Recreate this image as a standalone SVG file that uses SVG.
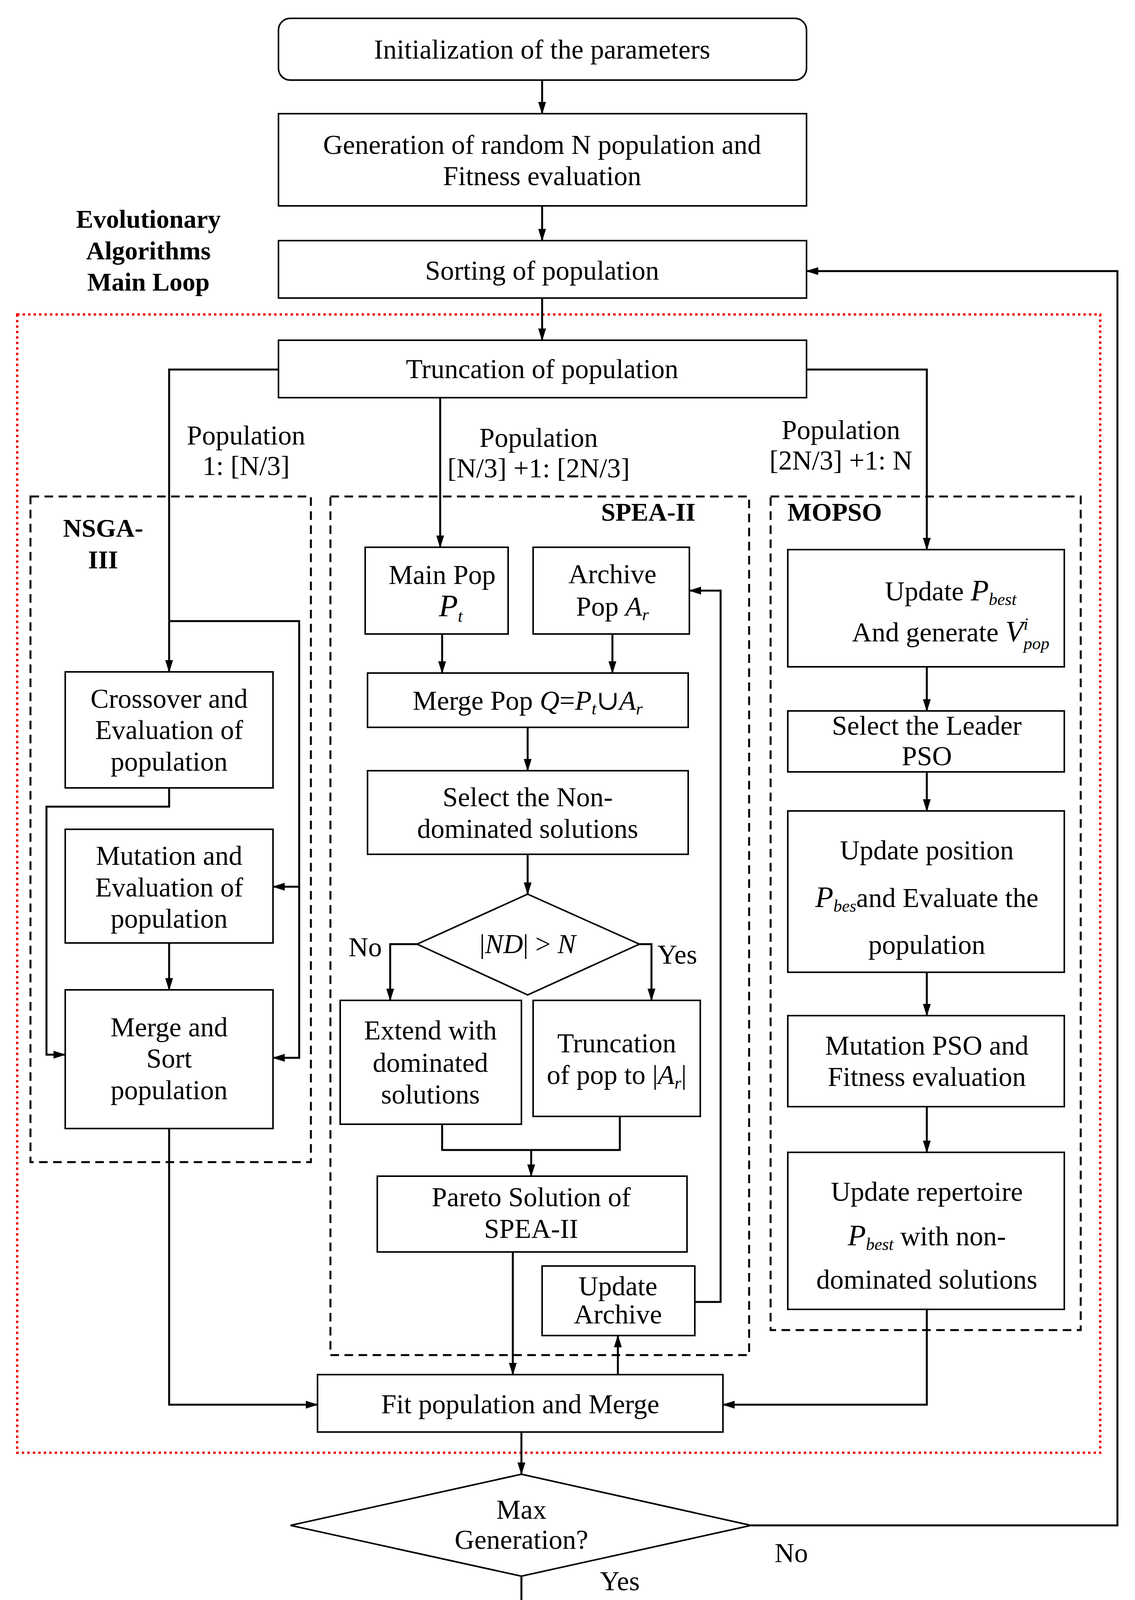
<svg xmlns="http://www.w3.org/2000/svg" width="2906" height="4350" viewBox="0 0 2906 4350">
<style>
text{font-family:"Liberation Serif","DejaVu Serif",serif;font-size:70px;fill:#000;text-anchor:middle}
.b{font-weight:bold;font-size:66px}
.i{font-style:italic}
.s{font-size:44px;font-style:italic}
.box{fill:#fff;stroke:#000;stroke-width:4}
.dash{fill:none;stroke:#000;stroke-width:5;stroke-dasharray:22 14}
.c{fill:none;stroke:#000;stroke-width:5}
</style>
<defs>
<marker id="a" markerWidth="32" markerHeight="32" refX="30" refY="16" orient="auto" markerUnits="userSpaceOnUse" viewBox="0 0 32 32"><path d="M0,6 L32,16 L0,26 z"/></marker>
</defs>
<rect width="2906" height="4350" fill="#fff"/>
<rect x="44" y="805" width="2773" height="2914" fill="none" stroke="#e00" stroke-width="6" stroke-dasharray="6 8"/>
<rect class="dash" x="78" y="1271" width="718" height="1704"/>
<rect class="dash" x="846" y="1271" width="1072" height="2198"/>
<rect class="dash" x="1973" y="1271" width="794" height="2134"/>
<g id="labels">
<text class="b" x="380" y="583">Evolutionary</text>
<text class="b" x="380" y="664">Algorithms</text>
<text class="b" x="380" y="744">Main Loop</text>
<text class="b" x="264" y="1374">NSGA-</text>
<text class="b" x="264" y="1455">III</text>
<text class="b" x="1660" y="1333">SPEA-II</text>
<text class="b" x="2137" y="1333">MOPSO</text>
<text x="630" y="1138">Population</text>
<text x="630" y="1216">1: [N/3]</text>
<text x="1379" y="1144">Population</text>
<text x="1379" y="1222">[N/3] +1: [2N/3]</text>
<text x="2153" y="1124">Population</text>
<text x="2153" y="1202">[2N/3] +1: N</text>
<text x="935" y="2448">No</text>
<text x="1734" y="2467">Yes</text>
<text x="2026" y="3999">No</text>
<text x="1587" y="4071">Yes</text>
</g>
<g id="connectors">
<path class="c" marker-end="url(#a)" d="M1388,205V291"/>
<path class="c" marker-end="url(#a)" d="M1388,527V616"/>
<path class="c" marker-end="url(#a)" d="M1388,763V871"/>
<path class="c" marker-end="url(#a)" d="M713,946H433V1720"/>
<path class="c" marker-end="url(#a)" d="M1127,1018V1401"/>
<path class="c" marker-end="url(#a)" d="M2065,946H2373V1407"/>
<path class="c" marker-end="url(#a)" d="M433,1590H766V2708H699"/>
<path class="c" marker-end="url(#a)" d="M766,2270H699"/>
<path class="c" marker-end="url(#a)" d="M433,2017V2065H119V2700H167"/>
<path class="c" marker-end="url(#a)" d="M433,2414V2534"/>
<path class="c" marker-end="url(#a)" d="M433,2889V3596H813"/>
<path class="c" marker-end="url(#a)" d="M1132,1623V1723"/>
<path class="c" marker-end="url(#a)" d="M1568,1623V1723"/>
<path class="c" marker-end="url(#a)" d="M1351,1862V1973"/>
<path class="c" marker-end="url(#a)" d="M1351,2187V2289"/>
<path class="c" marker-end="url(#a)" d="M1068,2417H999V2561"/>
<path class="c" marker-end="url(#a)" d="M1637,2417H1668V2561"/>
<path class="c" d="M1132,2878V2944H1587V2858"/>
<path class="c" marker-end="url(#a)" d="M1360,2944V3011"/>
<path class="c" marker-end="url(#a)" d="M1313,3205V3519"/>
<path class="c" marker-end="url(#a)" d="M1582,3519V3419"/>
<path class="c" marker-end="url(#a)" d="M1779,3333H1845V1512H1765"/>
<path class="c" marker-end="url(#a)" d="M2373,1707V1820"/>
<path class="c" marker-end="url(#a)" d="M2373,1976V2076"/>
<path class="c" marker-end="url(#a)" d="M2373,2489V2600"/>
<path class="c" marker-end="url(#a)" d="M2373,2833V2950"/>
<path class="c" marker-end="url(#a)" d="M2373,3352V3596H1851"/>
<path class="c" marker-end="url(#a)" d="M1335,3666V3774"/>
<path class="c" marker-end="url(#a)" d="M1923,3905H2861V694H2065"/>
<path class="c" marker-end="url(#a)" d="M1335,4035V4135"/>
</g>
<g id="n1"><rect class="box" x="713" y="47" width="1352" height="158" rx="30"/><text x="1388" y="150">Initialization of  the parameters</text></g>
<g id="n2"><rect class="box" x="713" y="291" width="1352" height="236"/><text x="1388" y="394">Generation of random N population and</text><text x="1388" y="474">Fitness evaluation</text></g>
<g id="n3"><rect class="box" x="713" y="616" width="1352" height="147"/><text x="1388" y="716">Sorting of population</text></g>
<g id="n4"><rect class="box" x="713" y="871" width="1352" height="147"/><text x="1388" y="968">Truncation of population</text></g>
<g id="nsga1"><rect class="box" x="167" y="1720" width="532" height="297"/><text x="433" y="1812">Crossover and</text><text x="433" y="1892">Evaluation of</text><text x="433" y="1973">population</text></g>
<g id="nsga2"><rect class="box" x="167" y="2123" width="532" height="291"/><text x="433" y="2214">Mutation and</text><text x="433" y="2295">Evaluation of</text><text x="433" y="2375">population</text></g>
<g id="nsga3"><rect class="box" x="167" y="2534" width="532" height="355"/><text x="433" y="2653">Merge and</text><text x="433" y="2733">Sort</text><text x="433" y="2814">population</text></g>
<g id="mainpop"><rect class="box" x="935" y="1401" width="366" height="222"/><text x="1132" y="1495">Main Pop</text><text class="i" x="1154" y="1578" style="font-size:80px">P<tspan class="s" dy="14">t</tspan></text></g>
<g id="archive"><rect class="box" x="1365" y="1401" width="400" height="222"/><text x="1568" y="1493">Archive</text><text x="1568" y="1576">Pop  <tspan class="i">A</tspan><tspan class="s" dy="12">r</tspan></text></g>
<g id="mergepop"><rect class="box" x="941" y="1723" width="821" height="139"/><text x="1351" y="1817">Merge Pop   <tspan class="i">Q</tspan>=<tspan class="i">P</tspan><tspan class="s" dy="12">t</tspan><tspan dy="-12">∪</tspan><tspan class="i">A</tspan><tspan class="s" dy="12">r</tspan></text></g>
<g id="selnd"><rect class="box" x="941" y="1973" width="821" height="214"/><text x="1351" y="2064">Select the Non-</text><text x="1351" y="2145">dominated solutions</text></g>
<g id="dec1"><polygon class="box" points="1351,2289 1637,2417 1351,2547 1068,2417"/><text x="1351" y="2440">|<tspan class="i">ND</tspan>| &gt; <tspan class="i">N</tspan></text></g>
<g id="extend"><rect class="box" x="871" y="2561" width="464" height="317"/><text x="1102" y="2661">Extend with</text><text x="1102" y="2744">dominated</text><text x="1102" y="2825">solutions</text></g>
<g id="trunc2"><rect class="box" x="1365" y="2561" width="428" height="297"/><text x="1579" y="2694">Truncation</text><text x="1579" y="2775">of pop to |<tspan class="i">A</tspan><tspan class="s" dy="12">r</tspan><tspan dy="-12">|</tspan></text></g>
<g id="pareto"><rect class="box" x="966" y="3011" width="793" height="194"/><text x="1360" y="3088">Pareto Solution of</text><text x="1360" y="3169">SPEA-II</text></g>
<g id="updarch"><rect class="box" x="1388" y="3241" width="391" height="178"/><text x="1582" y="3316">Update</text><text x="1582" y="3388">Archive</text></g>
<g id="m1"><rect class="box" x="2017" y="1407" width="708" height="300"/><text x="2434" y="1537">Update <tspan class="i" style="font-size:76px">P</tspan><tspan class="s" dy="12">best</tspan></text><text x="2434" y="1642">And generate <tspan class="i" style="font-size:76px">V</tspan><tspan class="s" dy="-30">i</tspan><tspan class="s" dx="-12" dy="50">pop</tspan></text></g>
<g id="m2"><rect class="box" x="2017" y="1820" width="708" height="156"/><text x="2373" y="1881">Select the Leader</text><text x="2373" y="1959">PSO</text></g>
<g id="m3"><rect class="box" x="2017" y="2076" width="708" height="413"/><text x="2373" y="2200">Update position</text><text x="2373" y="2322"><tspan class="i" style="font-size:76px">P</tspan><tspan class="s" dy="12">bes</tspan><tspan dy="-12">and Evaluate the</tspan></text><text x="2373" y="2442">population</text></g>
<g id="m4"><rect class="box" x="2017" y="2600" width="708" height="233"/><text x="2373" y="2700">Mutation PSO and</text><text x="2373" y="2780">Fitness evaluation</text></g>
<g id="m5"><rect class="box" x="2017" y="2950" width="708" height="402"/><text x="2373" y="3074">Update repertoire</text><text x="2373" y="3188"><tspan class="i" style="font-size:76px">P</tspan><tspan class="s" dy="12">best</tspan><tspan dy="-12">  with non-</tspan></text><text x="2373" y="3299">dominated solutions</text></g>
<g id="fit"><rect class="box" x="813" y="3519" width="1038" height="147"/><text x="1332" y="3618">Fit population and Merge</text></g>
<g id="maxgen"><polygon class="box" points="1335,3774 1923,3905 1335,4035 744,3905"/><text x="1335" y="3888">Max</text><text x="1335" y="3965">Generation?</text></g>
<g id="end"><rect class="box" x="658" y="4135" width="1351" height="166" rx="30"/><text x="1335" y="4240">End optimization and Obtain solutions</text></g>
</svg>
